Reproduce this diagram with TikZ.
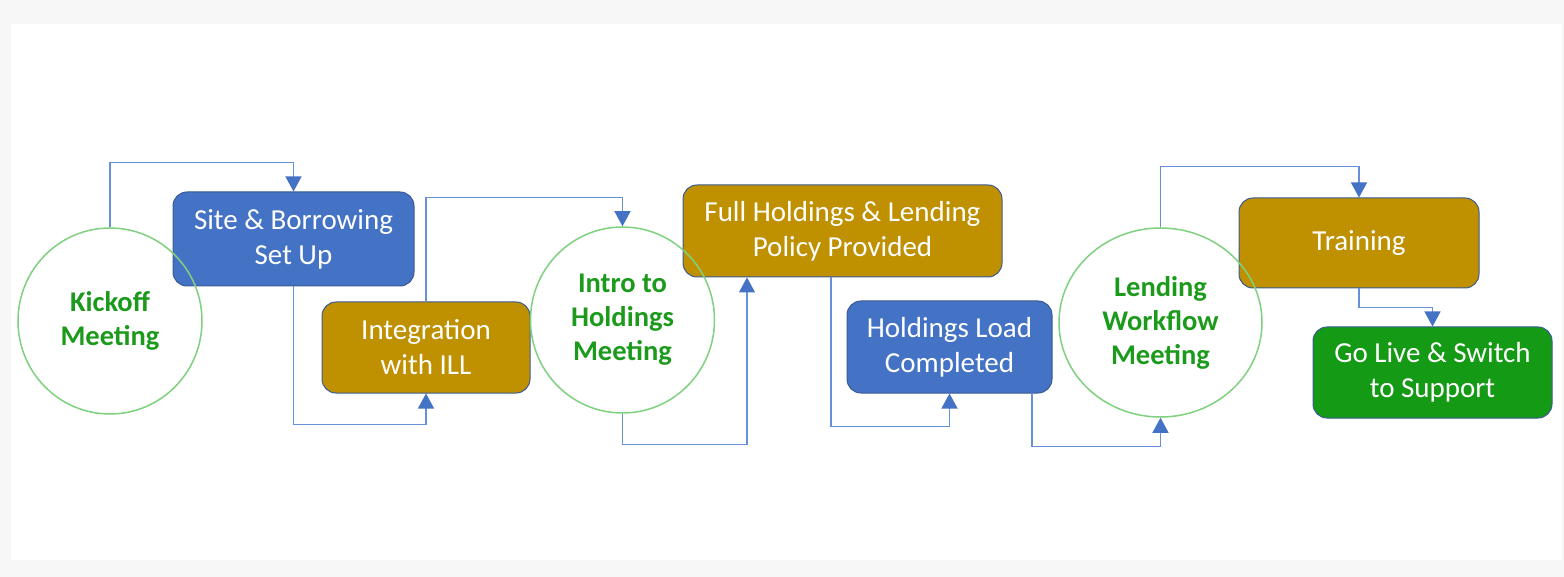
\documentclass[tikz,border=0pt]{standalone}
\usepackage{fontspec}
\setmainfont{Carlito}
\usetikzlibrary{arrows.meta, shapes.geometric}

\definecolor{boxblue}{HTML}{4472C4}
\definecolor{boxgold}{HTML}{BF9000}
\definecolor{boxgreen}{HTML}{149A14}
\definecolor{ringgreen}{HTML}{7FD17F}
\definecolor{textgreen}{HTML}{1C9A1C}
\definecolor{edgeblue}{HTML}{6690DA}
\definecolor{tipblue}{HTML}{4472C4}
\definecolor{rimblue}{HTML}{3B5B94}
\definecolor{pagegrey}{HTML}{F7F7F7}

\begin{document}
\begin{tikzpicture}[x=1pt,y=-1pt,
  main node/.style={ellipse,draw=ringgreen,line width=1.5pt,inner sep=0pt,minimum width=184pt,minimum height=186pt,align=center,text=textgreen,font=\fontsize{28.5}{34}\selectfont\bfseries},
  task node/.style={rectangle,rounded corners=14pt,draw=rimblue,line width=1pt,inner sep=0pt,align=center,text=white,font=\fontsize{29}{35}\selectfont},
  flow/.style={draw=edgeblue,line width=1.3pt,-{Triangle[length=15pt,width=16pt,color=tipblue]}},
  hop/.style={to path={-- ++(0,#1) -| (\tikztotarget)}}]
  % page
  \fill[pagegrey] (0,0) rectangle (1564,577);
  \fill[white] (11,24) rectangle (1562,560);
  % tasks
  \node[task node, fill=boxblue, minimum width=241pt, minimum height=94pt] (2) at (293.5,239) {Site \& Borrowing\\Set Up};
  \node[task node, fill=boxgold, minimum width=208pt, minimum height=91pt] (3) at (426,347.5) {Integration\\with ILL};
  \node[task node, fill=boxgold, minimum width=319pt, minimum height=92pt] (5) at (842.5,231) {Full Holdings \& Lending\\Policy Provided};
  \node[task node, fill=boxblue, minimum width=205pt, minimum height=92pt] (6) at (949.5,347) {Holdings Load\\Completed};
  \node[task node, fill=boxgold, minimum width=240pt, minimum height=90pt] (8) at (1359,243) {Training};
  \node[task node, fill=boxgreen, minimum width=239pt, minimum height=91pt] (9) at (1432.5,372.5) {Go Live \& Switch\\to Support};
  % meetings
  \node[main node] (1) at (110,321) {Kickoff\\Meeting};
  \node[main node] (4) at (622.5,320) {Intro to\\Holdings\\Meeting};
  \node[main node, minimum width=203pt, minimum height=189pt] (7) at (1160.5,322.5) {Lending\\Workflow\\Meeting};
  % flow
  \draw[flow] (1.north) to[hop=-65] (2.north);
  \draw[flow] (2.south) to[hop=138] (3.south);
  \draw[flow] (3.north) to[hop=-104] (4.north);
  \draw[flow] (4.south) to[hop=31] ([xshift=-95.5pt]5.south);
  \draw[flow] ([xshift=-11.5pt]5.south) to[hop=149] (6.south);
  \draw[flow] ([xshift=82.5pt]6.south) to[hop=53] (7.south);
  \draw[flow] (7.north) to[hop=-61] (8.north);
  \draw[flow] (8.south) to[hop=19] (9.north);
\end{tikzpicture}
\end{document}
